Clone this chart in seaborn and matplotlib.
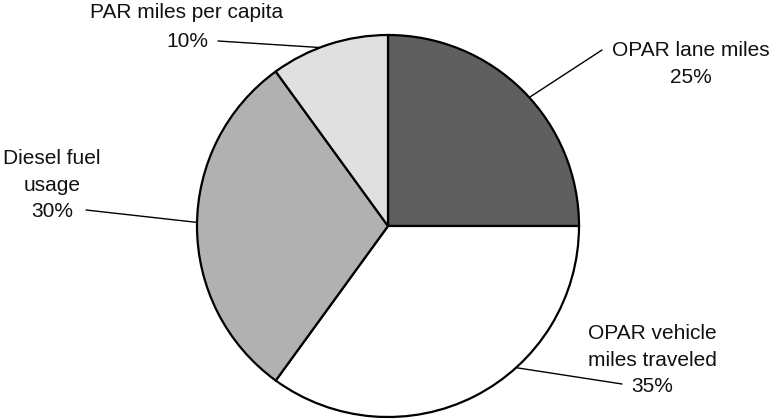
import numpy as np
import matplotlib
matplotlib.use("Agg")
import matplotlib.pyplot as plt
import seaborn as sns

# Share of each factor in the allocation
categories = ["OPAR lane miles", "OPAR vehicle miles traveled", "Diesel fuel usage", "PAR miles per capita"]
shares = [25, 35, 30, 10]
label_text = ["OPAR lane miles\n25%", "OPAR vehicle\nmiles traveled\n35%",
              "Diesel fuel\nusage\n30%", "PAR miles per capita\n10%"]

sns.set_style("white")
plt.rcParams["font.family"] = ["Liberation Sans", "DejaVu Sans"]

colors = ["#5f5f5f", "#ffffff", "#b1b1b1", "#e0e0e0"]

W, H = 773, 419
fig = plt.figure(figsize=(W / 100, H / 100), dpi=100)
ax = fig.add_axes([0, 0, 1, 1])

cx, cy, r = 388, H - 226, 191
wedges, _ = ax.pie(shares, colors=colors, startangle=90, counterclock=False,
                   center=(cx, cy), radius=r, frame=True,
                   wedgeprops=dict(edgecolor="black", linewidth=1.6))
ax.set_xlim(0, W)
ax.set_ylim(0, H)
ax.axis("off")

# label placement: text centre (px), leader end near text (px), position along wedge
layout = [
    dict(text=(691, 64), end=(602, 50), frac=0.53, ls=1.56),
    dict(text=(652, 360), end=(622, 384), frac=0.38, ls=1.5),
    dict(text=(52, 185), end=(86, 210), frac=0.51, ls=1.5),
    dict(text=(187, 27), end=(218, 41), frac=0.42, ls=1.68),
]

for w, lab, lay in zip(wedges, label_text, layout):
    t1, t2 = w.theta1, w.theta2
    ang = np.deg2rad(t2 - (t2 - t1) * lay["frac"])
    px, py = cx + r * np.cos(ang), cy + r * np.sin(ang)
    ex, ey = lay["end"][0], H - lay["end"][1]
    ax.plot([px, ex], [py, ey], color="black", lw=1.0, zorder=0.5)
    tx, ty = lay["text"]
    ax.text(tx, H - ty, lab, ha="center", va="center", fontsize=15,
            linespacing=lay["ls"], color="#111111")

fig.savefig("out.png", dpi=100)
